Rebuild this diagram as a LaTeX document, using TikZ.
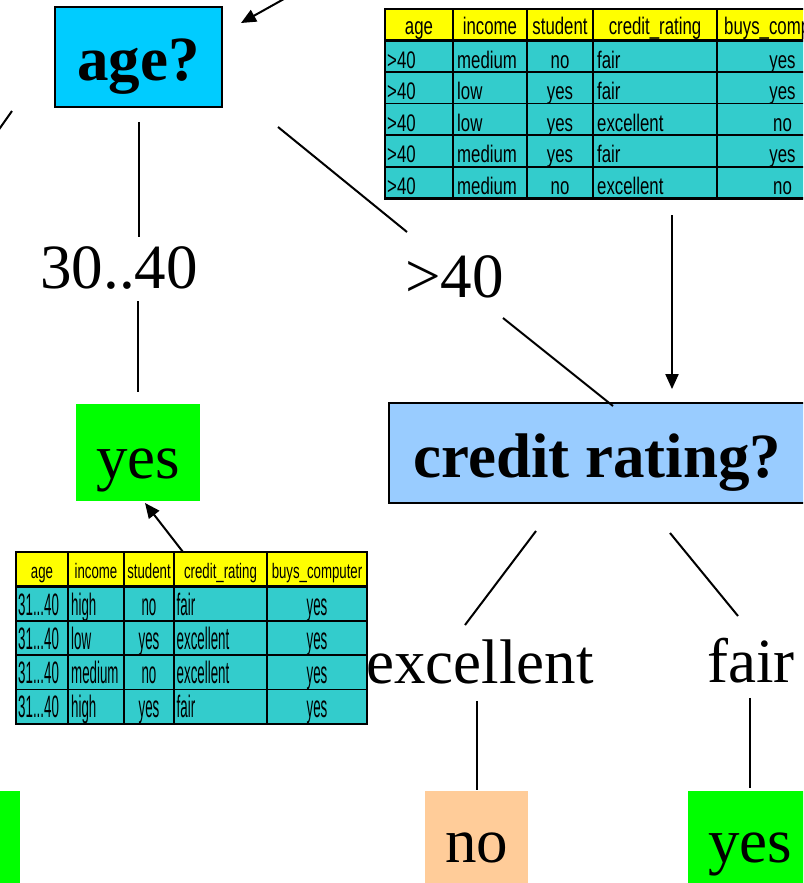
\documentclass[tikz,border=0pt]{standalone}
\usepackage{fontspec}
\setmainfont{Liberation Serif}
\newfontfamily\tabAfont[FakeStretch=0.70]{Liberation Sans}
\newfontfamily\tabBhfont[FakeStretch=0.63]{Liberation Sans}
\newfontfamily\tabBdfont[FakeStretch=0.43]{Liberation Sans}
\usetikzlibrary{arrows.meta}
\definecolor{agecol}{HTML}{00CCFF}
\definecolor{creditcol}{HTML}{99CCFF}
\definecolor{leafgreen}{HTML}{00FF00}
\definecolor{leafpeach}{HTML}{FFCC99}
\definecolor{hdrcol}{HTML}{FFFF00}
\definecolor{cellcol}{HTML}{33CCCC}
\begin{document}
\begin{tikzpicture}[x=1pt,y=-1pt,
  edge/.style={line width=2pt},
  arrowedge/.style={line width=2pt,-{Triangle[length=15pt,width=13pt]}},
  qbox/.style={draw, line width=1.8pt, inner sep=0pt, font=\fontsize{63}{70}\selectfont\bfseries},
  leafbox/.style={inner sep=0pt, font=\fontsize{63}{70}\selectfont},
  bigtext/.style={inner sep=0pt, font=\fontsize{63}{70}\selectfont},
  tablebox/.style={inner sep=0pt, draw=none},
  gridline/.style={line width=1.5pt},
  gridthick/.style={line width=2.4pt},
  tA/.style={inner sep=0pt, font=\fontsize{24}{24}\selectfont\tabAfont},
  tBh/.style={inner sep=0pt, font=\fontsize{21}{21}\selectfont\tabBhfont},
  tBd/.style={inner sep=0pt, font=\fontsize{31}{31}\selectfont\tabBdfont}
]
\useasboundingbox (0,0) rectangle (803,883);
\clip (0,0) rectangle (803,883);

% ---------- question boxes ----------
\node[qbox, fill=agecol, minimum width=167pt, minimum height=100pt,
      text height=48pt, text depth=0pt] (age) at (138.5,57) {age?};
\node[qbox, fill=creditcol, minimum width=417pt, minimum height=100pt,
      text height=48pt, text depth=0pt] (credit) at (597.5,453) {credit rating?};

% ---------- leaves ----------
\node[leafbox, fill=leafgreen, minimum width=124pt, minimum height=97pt,
      text height=51pt, text depth=0pt] (yesA) at (138,452.5) {yes};
\node[leafbox, fill=leafpeach, minimum width=103pt, minimum height=97pt,
      text height=45pt, text depth=0pt] (noB) at (476.5,839.5) {no};
\node[leafbox, fill=leafgreen, minimum width=124pt, minimum height=97pt,
      text height=45pt, text depth=0pt] (yesB) at (750,839.5) {yes};
\node[leafbox, fill=leafgreen, minimum width=124pt, minimum height=97pt] (leafL) at (-42,839.5) {};

% ---------- branch labels ----------
\node[bigtext, anchor=base] (l3040) at (119,288) {30..40};
\node[bigtext, anchor=base] (lgt40) at (454.5,297) {>40};
\node[bigtext, anchor=base] (lexc) at (480,683) {excellent};
\node[bigtext, anchor=base] (lfair) at (751,682) {fair};

% ---------- edges ----------
\draw[edge, shorten <=14pt, shorten >=9pt] (age.south) -- (age.south |- l3040.north);
\draw[edge, shorten <=12pt, shorten >=12pt] (yesA.north |- l3040.south) -- (yesA.north);

\coordinate (g1a) at (278,127);
\coordinate (g1b) at (407,232);
\coordinate (g2a) at (503,318);
\coordinate (g2b) at (613,406);
\draw[edge] (g1a) -- (g1b);
\draw[edge] (g2a) -- (g2b);

\coordinate (lt1) at (12,111);
\coordinate (lt2) at (-24,162);
\draw[edge] (lt1) -- (lt2);

\coordinate (ta1) at (300,-10);
\coordinate (ta2) at (241,23);
\draw[arrowedge] (ta1) -- (ta2);

\coordinate (c1a) at (536,531);
\coordinate (c1b) at (465,625);
\draw[edge] (c1a) -- (c1b);
\coordinate (c2a) at (670,533);
\coordinate (c2b) at (738,616);
\draw[edge] (c2a) -- (c2b);

\draw[edge, shorten <=17pt, shorten >=1pt] (lexc.south -| noB.north) -- (noB.north);
\draw[edge, shorten <=15pt, shorten >=3pt] (lfair.south -| yesB.north) -- (yesB.north);

% ---------- top table ----------
\node[tablebox, minimum width=463pt, minimum height=189.5pt, anchor=north west] (tabA) at (385,9) {};
\fill[hdrcol] (385,9) rectangle (848,40.5);
\fill[cellcol] (385,40.5) rectangle (848,198.5);
\foreach \yy in {72,103.5,135,167} \draw[gridline] (385,\yy) -- (848,\yy);
\foreach \xx in {453,527,593,717} \draw[gridline] (\xx,9) -- (\xx,198.5);
\draw[gridthick] (385,40.5) -- (848,40.5);
\draw[gridthick] (385,9) rectangle (848,198.5);

\node[tA, anchor=base] (tAh1) at (419,35) {age};
\node[tA, anchor=base] (tAh2) at (490,35) {income};
\node[tA, anchor=base] (tAh3) at (560,35) {student};
\node[tA, anchor=base] (tAh4) at (655,35) {credit\_rating};
\node[tA, anchor=base west] (tAh5) at (724,35) {buys\_computer};

\foreach \yy/\inc/\stu/\cr/\buy [count=\i] in {
  68/medium/no/fair/yes,
  99.6/low/yes/fair/yes,
  131.2/low/yes/excellent/no,
  162.8/medium/yes/fair/yes,
  194.4/medium/no/excellent/no}{
  \node[tA, anchor=base west] (tAa\i) at (387,\yy) {>40};
  \node[tA, anchor=base west] (tAb\i) at (457,\yy) {\inc};
  \node[tA, anchor=base] (tAc\i) at (560,\yy) {\stu};
  \node[tA, anchor=base west] (tAd\i) at (597,\yy) {\cr};
  \node[tA, anchor=base] (tAe\i) at (782.5,\yy) {\buy};
}

% ---------- bottom table ----------
\node[tablebox, minimum width=351pt, minimum height=172pt, anchor=north west] (tabB) at (16,552) {};
\fill[hdrcol] (16,552) rectangle (367,586.5);
\fill[cellcol] (16,586.5) rectangle (367,724);
\foreach \yy in {621,655,689.5} \draw[gridline] (16,\yy) -- (367,\yy);
\foreach \xx in {68,124,174,267} \draw[gridline] (\xx,552) -- (\xx,724);
\draw[gridthick] (16,586.5) -- (367,586.5);
\draw[gridthick] (16,552) rectangle (367,724);

\node[tBh, anchor=base] (tBh1) at (42,578) {age};
\node[tBh, anchor=base] (tBh2) at (96,578) {income};
\node[tBh, anchor=base] (tBh3) at (149,578) {student};
\node[tBh, anchor=base] (tBh4) at (220.5,578) {credit\_rating};
\node[tBh, anchor=base] (tBh5) at (317,578) {buys\_computer};

\foreach \yy/\inc/\stu/\cr/\buy [count=\i] in {
  615/high/no/fair/yes,
  649/low/yes/excellent/yes,
  683/medium/no/excellent/yes,
  717/high/yes/fair/yes}{
  \node[tBd, anchor=base west] (tBa\i) at (18,\yy) {31...40};
  \node[tBd, anchor=base west] (tBb\i) at (71,\yy) {\inc};
  \node[tBd, anchor=base] (tBc\i) at (149,\yy) {\stu};
  \node[tBd, anchor=base west] (tBd\i) at (176.5,\yy) {\cr};
  \node[tBd, anchor=base] (tBe\i) at (317,\yy) {\buy};
}

% ---------- table arrows ----------
\coordinate (ax) at (672,300);
\draw[arrowedge, shorten <=16.5pt, shorten >=13pt] (tabA.south -| ax) -- (credit.north -| ax);
\coordinate (bt) at (183,552);
\coordinate (bh) at (145,503);
\draw[arrowedge] (bt) -- (bh);
\end{tikzpicture}
\end{document}
